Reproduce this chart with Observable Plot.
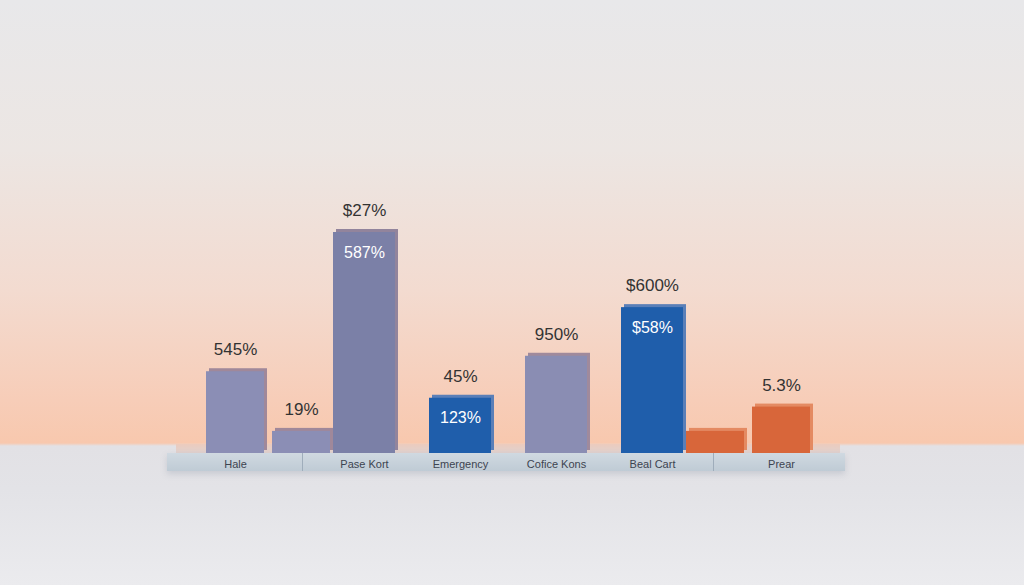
<!DOCTYPE html>
<html>
<head>
<meta charset="utf-8">
<script src="https://cdn.jsdelivr.net/npm/d3@7"></script>
<script src="https://cdn.jsdelivr.net/npm/@observablehq/plot@0.6"></script>
<style>
  html, body { margin: 0; padding: 0; }
  #wrap {
    position: relative; width: 1024px; height: 585px; overflow: hidden;
    background: linear-gradient(to bottom, #e8e8ea 0px, #ece6e3 150px, #f3dbd0 290px, #f7cdb8 400px, #f8c8ae 443px, #e2e1e5 446px, #e3e3e7 490px, #ebebee 585px);
    font-family: "Liberation Sans", Arial, sans-serif;
  }
  #topface { position: absolute; left: 176px; top: 444px; width: 664px; height: 9px;
    background: linear-gradient(to bottom, #eccbbd, #e0d2cf); }
  #front { position: absolute; left: 167px; top: 453px; width: 678px; height: 18px;
    background: linear-gradient(to bottom, #d0d9e1, #bfcbd5); box-shadow: 0 3px 6px rgba(120,130,150,0.25); }
  .div { position: absolute; top: 453px; width: 1px; height: 18px; background: #9fadbb; }
  svg { position: absolute; left: 0; top: 0; }
</style>
</head>
<body>
<div id="wrap">
  <div id="topface"></div>
  <div id="front"></div>
  <div class="div" style="left:302px"></div>
  <div class="div" style="left:713px"></div>
</div>
<script>
const groups = ["Hale", "Hale", "Pase Kort", "Emergency", "Cofice Kons", "Beal Cart", "Prear", "Prear"];
const slots = ["left", "right", "center", "center", "center", "center", "left", "right"];
const values = [37, 10, 100, 25, 44, 66, 10, 21];
const groupLabels = ["Hale", "", "Pase Kort", "Emergency", "Cofice Kons", "Beal Cart", "", "Prear"];
const topLabels = ["545%", "19%", "$27%", "45%", "950%", "$600%", "", "5.3%"];
const innerLabels = ["", "", "587%", "123%", "", "$58%", "", ""];
const colors = ["#8b8eb5", "#8b8eb5", "#7b80a7", "#1f5eab", "#8a8db3", "#1f5eab", "#d8663a", "#d8663a"];
const sideColors = ["#a0889a", "#a0889a", "#92849c", "#5a7fb8", "#a08a9c", "#5a7fb8", "#e48a62", "#e48a62"];
const groupOrder = ["Hale", "Pase Kort", "Emergency", "Cofice Kons", "Beal Cart", "Prear"];

const data = values.map((v, i) => ({
  group: groups[i], slot: slots[i], value: v, label: groupLabels[i], top: topLabels[i],
  inner: innerLabels[i], color: colors[i], side: sideColors[i]
}));

const shift = { left: -33, center: 0, right: 33 };
const inset = { left: 2, center: 0, right: 2 };
const marks = [];
for (const slot of ["left", "center", "right"]) {
  const d = data.filter(r => r.slot === slot);
  const dx = shift[slot];
  const ins = inset[slot];
  marks.push(
    Plot.barY(d, { x: "group", y: "value", fill: "side", dx: dx + 3, dy: -3, insetLeft: ins, insetRight: ins }),
    Plot.barY(d, { x: "group", y: "value", fill: "color", dx, insetLeft: ins, insetRight: ins }),
    Plot.text(d, { x: "group", y: "value", text: "top", dx, dy: -22, fontSize: 17, fill: "#333333" }),
    Plot.text(d, { x: "group", y: "value", text: "inner", dx, dy: 20, fontSize: 16, fill: "#ffffff" }),
    Plot.text(d, { x: "group", y: 0, text: "label", dx, dy: 11, fontSize: 11, fill: "#3d4450" })
  );
}

const chart = Plot.plot({
  width: 1024,
  height: 585,
  marginTop: 232,
  marginBottom: 132,
  marginLeft: 236,
  marginRight: 244,
  style: { background: "transparent", fontFamily: "Liberation Sans, Arial, sans-serif" },
  x: { domain: groupOrder, axis: null, paddingInner: 0.357, paddingOuter: 0 },
  y: { domain: [0, 100], axis: null },
  marks
});
document.getElementById("wrap").appendChild(chart);
</script>
</body>
</html>
